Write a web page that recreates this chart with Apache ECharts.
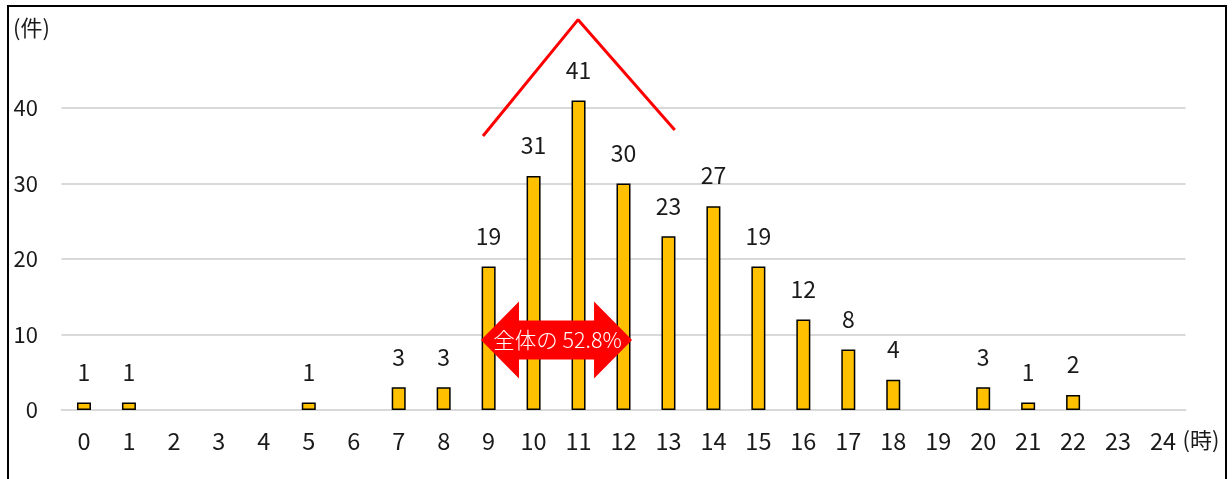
<!DOCTYPE html>
<html>
<head>
<meta charset="utf-8">
<script src="https://cdn.jsdelivr.net/npm/echarts@6/dist/echarts.min.js"></script>
<style>html,body{margin:0;padding:0;background:#fff;}#c{width:1232px;height:479px;}</style>
</head>
<body>
<div id="c"></div>
<script>
const hours = ['0','1','2','3','4','5','6','7','8','9','10','11','12','13','14','15','16','17','18','19','20','21','22','23','24'];
const counts = [1,1,null,null,null,1,null,3,3,19,31,41,30,23,27,19,12,8,4,null,3,1,2,null,null];
const yTicks = [0,10,20,30,40];
// peak annotation (red polyline) in axis units
const peakX = [8.875, 10.99, 13.14];
const peakY = [36.3, 51.7, 37.1];
// double arrow annotation: [xStart, xEnd, yValue]
const arrowSpan = [8.83, 12.19, 9.27];
const arrowText = '全体の 52.8%';
const yUnit = '(件)';
const xUnit = '(時)';

const FONT = '"Noto Sans CJK JP", "Noto Sans", sans-serif';
const chart = echarts.init(document.getElementById('c'), null, {renderer: 'canvas'});

const option = {
  backgroundColor: '#fff',
  animation: false,
  textStyle: {fontFamily: FONT},
  grid: {left: 61.5, right: 46.5, top: 108, bottom: 69, containLabel: false},
  xAxis: [
    {
      type: 'category',
      data: hours,
      boundaryGap: true,
      axisLine: {show: true, lineStyle: {color: '#d9d9d9', width: 2}},
      axisTick: {show: false},
      axisLabel: {fontSize: 23.5, color: '#1a1a1a', margin: 19, fontFamily: FONT, interval: 0},
      name: xUnit,
      nameLocation: 'end',
      nameGap: -3,
      nameTextStyle: {fontSize: 22, color: '#1a1a1a', fontFamily: FONT, align: 'left', verticalAlign: 'top', padding: [19, 0, 0, 0]}
    },
    {
      type: 'value', min: -0.5, max: 24.5, show: false
    }
  ],
  yAxis: {
    type: 'value',
    min: 0, max: 40, interval: 10,
    axisLine: {show: false},
    axisTick: {show: false},
    axisLabel: {fontSize: 22, color: '#1a1a1a', margin: 23.5, fontFamily: FONT,
      formatter: v => (yTicks.indexOf(v) >= 0 ? String(v) : '')},
    splitLine: {show: true, lineStyle: {color: '#d9d9d9', width: 2}}
  },
  series: [
    {
      type: 'bar',
      data: counts,
      barWidth: 14,
      clip: false,
      itemStyle: {color: '#FFC000', borderColor: '#000', borderWidth: 1.5},
      label: {show: true, position: 'top', distance: 19, fontSize: 23, color: '#1a1a1a', fontFamily: FONT},
      z: 2
    },
    {
      type: 'line',
      xAxisIndex: 1,
      yAxisIndex: 0,
      data: peakX.map((x, i) => [x, peakY[i]]),
      symbol: 'none',
      clip: false,
      lineStyle: {color: '#FF0000', width: 3},
      z: 3
    },
    {
      type: 'custom',
      xAxisIndex: 1,
      yAxisIndex: 0,
      clip: false,
      data: [arrowSpan],
      encode: {x: [0, 1], y: 2},
      renderItem: function (params, api) {
        const a = api.coord([api.value(0), api.value(2)]);
        const b = api.coord([api.value(1), api.value(2)]);
        const cy = a[1];
        const hl = 38, hh = 38.5, sh = 19.5;
        const x1 = a[0], x2 = b[0];
        const pts = [
          [x1, cy], [x1 + hl, cy - hh], [x1 + hl, cy - sh], [x2 - hl, cy - sh], [x2 - hl, cy - hh],
          [x2, cy], [x2 - hl, cy + hh], [x2 - hl, cy + sh], [x1 + hl, cy + sh], [x1 + hl, cy + hh]
        ];
        return {
          type: 'group',
          children: [
            {type: 'polygon', shape: {points: pts}, style: {fill: '#FF0000', stroke: 'none'}},
            {type: 'text', style: {text: arrowText, x: (x1 + x2) / 2 + 1, y: cy, align: 'center', verticalAlign: 'middle',
              fill: '#fff', font: '300 21.5px ' + FONT}}
          ]
        };
      },
      z: 4
    }
  ],
  graphic: [
    {type: 'rect', shape: {x: 8, y: 6, width: 1218, height: 520}, style: {fill: 'none', stroke: '#000', lineWidth: 2}, silent: true, z: 10},
    {type: 'text', left: 13, top: 17, style: {text: yUnit, font: '22px ' + FONT, fill: '#1a1a1a'}, silent: true, z: 10}
  ]
};
chart.setOption(option);
</script>
</body>
</html>
